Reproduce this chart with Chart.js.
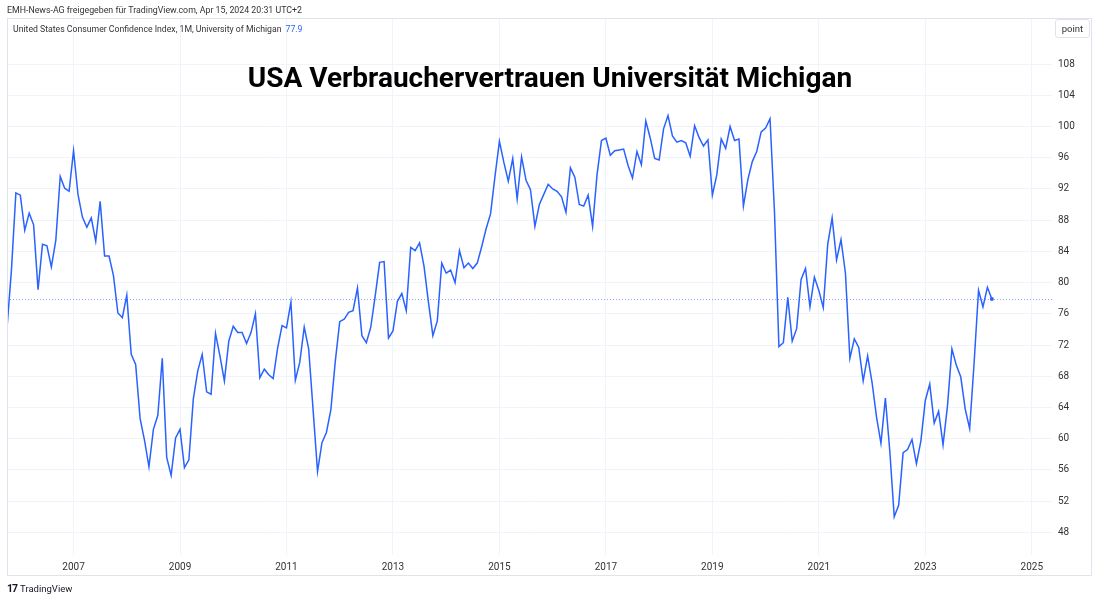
<!DOCTYPE html>
<html>
<head>
<meta charset="utf-8">
<script src="https://cdn.jsdelivr.net/npm/chart.js@4.4.1/dist/chart.umd.min.js"></script>
<style>
  html, body { margin: 0; padding: 0; background: #fff; }
  #wrap { position: relative; width: 1100px; height: 599px; font-family: Roboto, "Noto Sans", sans-serif; color: #131722; }
  #chart { position: absolute; left: 0; top: 0; }
  .frame { position: absolute; left: 7px; top: 18px; width: 1085px; height: 558px; border: 1px solid #e0e3eb; box-sizing: border-box; pointer-events: none; }
  .byline { position: absolute; left: 7px; top: 5px; font-size: 8.8px; color: #333; }
  .legend { position: absolute; left: 13px; top: 24px; font-size: 8.7px; color: #333; }
  .legend span { color: #2962ff; margin-left: 4px; }
  .title { position: absolute; left: 0; width: 1100px; top: 61px; text-align: center; font-size: 28px; font-weight: bold; color: #000; }
  .unit { position: absolute; left: 1055px; top: 19px; width: 35px; height: 19px; border: 1px solid #e0e3eb; border-radius: 3px; font-size: 9.5px; color: #333; text-align: center; line-height: 18px; box-sizing: border-box; }
  .logo { position: absolute; left: 7px; top: 582px; font-size: 9.5px; color: #131722; }
  .logo b { font-size: 10.5px; letter-spacing: -1px; margin-right: 3px; }
</style>
</head>
<body>
<div id="wrap">
  <canvas id="chart" width="1100" height="599"></canvas>
  <div class="frame"></div>
  <div class="byline">EMH-News-AG freigegeben für TradingView.com, Apr 15, 2024 20:31 UTC+2</div>
  <div class="legend">United States Consumer Confidence Index, 1M, University of Michigan<span>77.9</span></div>
  <div class="title">USA Verbrauchervertrauen Universität Michigan</div>
  <div class="unit">point</div>
  <div class="logo"><b>17</b>TradingView</div>
</div>
<script>
// monthly readings, Oct 2005 .. Apr 2024
const startYear = 2005;
const startMonth = 10;
const sentiment = [
  74.2, 81.6, 91.5,
  91.2, 86.7, 88.9, 87.4, 79.1, 84.9, 84.7, 82.0, 85.4, 93.6, 92.1, 91.7,
  96.9, 91.3, 88.4, 87.1, 88.3, 85.3, 90.4, 83.4, 83.4, 80.9, 76.1, 75.5,
  78.4, 70.8, 69.5, 62.6, 59.8, 56.4, 61.2, 63.0, 70.3, 57.6, 55.3, 60.1,
  61.2, 56.3, 57.3, 65.1, 68.7, 70.8, 66.0, 65.7, 73.5, 70.6, 67.4, 72.5,
  74.4, 73.6, 73.6, 72.2, 73.6, 76.0, 67.8, 68.9, 68.2, 67.7, 71.6, 74.5,
  74.2, 77.5, 67.5, 69.8, 74.3, 71.5, 63.7, 55.8, 59.5, 60.8, 63.7, 69.9,
  75.0, 75.3, 76.2, 76.4, 79.3, 73.2, 72.3, 74.3, 78.3, 82.6, 82.7, 72.9,
  73.8, 77.6, 78.6, 76.4, 84.5, 84.1, 85.1, 82.1, 77.5, 73.2, 75.1, 82.5,
  81.2, 81.6, 80.0, 84.1, 81.9, 82.5, 81.8, 82.5, 84.6, 86.9, 88.8, 93.6,
  98.1, 95.4, 93.0, 95.9, 90.7, 96.1, 93.1, 91.9, 87.2, 90.0, 91.3, 92.6,
  92.0, 91.7, 91.0, 89.0, 94.7, 93.5, 90.0, 89.8, 91.2, 87.2, 93.8, 98.2,
  98.5, 96.3, 96.9, 97.0, 97.1, 95.0, 93.4, 96.8, 95.1, 100.7, 98.5, 95.9,
  95.7, 99.7, 101.4, 98.8, 98.0, 98.2, 97.9, 96.2, 100.1, 98.6, 97.5, 98.3,
  91.2, 93.8, 98.4, 97.2, 100.0, 98.2, 98.4, 89.8, 93.2, 95.5, 96.8, 99.3,
  99.8, 101.0, 89.1, 71.8, 72.3, 78.1, 72.5, 74.1, 80.4, 81.8, 76.9, 80.7,
  79.0, 76.8, 84.9, 88.3, 82.9, 85.5, 81.2, 70.3, 72.8, 71.7, 67.4, 70.6,
  67.2, 62.8, 59.4, 65.2, 58.4, 50.0, 51.5, 58.2, 58.6, 59.9, 56.8, 59.7,
  64.9, 67.0, 62.0, 63.5, 59.2, 64.2, 71.5, 69.4, 67.9, 63.8, 61.3, 69.7,
  79.0, 76.9, 79.4, 77.9
];
const yearTicks = [2007, 2009, 2011, 2013, 2015, 2017, 2019, 2021, 2023, 2025];
const priceTicks = [48, 52, 56, 60, 64, 68, 72, 76, 80, 84, 88, 92, 96, 100, 104, 108];

const points = sentiment.map((v, i) => ({
  x: startYear + (startMonth - 1 + i) / 12,
  y: v
}));
const lastValue = sentiment[sentiment.length - 1];

const lastLine = {
  id: 'lastLine',
  beforeDatasetsDraw(chart) {
    const { ctx, chartArea, scales } = chart;
    const y = Math.round(scales.y.getPixelForValue(lastValue)) + 0.5;
    ctx.save();
    ctx.strokeStyle = 'rgba(41, 98, 255, 0.55)';
    ctx.lineWidth = 1;
    ctx.setLineDash([1, 2]);
    ctx.beginPath();
    ctx.moveTo(chartArea.left, y);
    ctx.lineTo(chartArea.right, y);
    ctx.stroke();
    ctx.restore();
  }
};

new Chart(document.getElementById('chart').getContext('2d'), {
  type: 'line',
  data: {
    datasets: [{
      data: points,
      borderColor: '#2962ff',
      borderWidth: 1.5,
      pointRadius: points.map((p, i) => i === points.length - 1 ? 2 : 0),
      pointBackgroundColor: '#2962ff',
      pointBorderWidth: 0,
      tension: 0
    }]
  },
  options: {
    responsive: false,
    animation: false,
    events: [],
    layout: { padding: { left: 7, right: 8, top: 18, bottom: 23 } },
    plugins: { legend: { display: false }, tooltip: { enabled: false } },
    scales: {
      x: {
        type: 'linear',
        min: 2005.75,
        max: 2025.38,
        afterBuildTicks(scale) { scale.ticks = yearTicks.map(v => ({ value: v })); },
        afterFit(scale) { scale.height = 21; },
        grid: { color: '#f0f3fa', drawTicks: false },
        border: { display: false },
        ticks: { color: '#333', font: { family: 'Roboto', size: 10 }, padding: 6, maxRotation: 0, callback: v => String(v) }
      },
      y: {
        position: 'right',
        min: 45.1,
        max: 113.9,
        afterBuildTicks(scale) { scale.ticks = priceTicks.map(v => ({ value: v })); },
        afterFit(scale) { scale.width = 40; },
        grid: { color: '#f0f3fa', drawTicks: false },
        border: { display: false },
        ticks: { color: '#333', font: { family: 'Roboto', size: 10 }, padding: 6 }
      }
    }
  },
  plugins: [lastLine]
});
</script>
</body>
</html>
